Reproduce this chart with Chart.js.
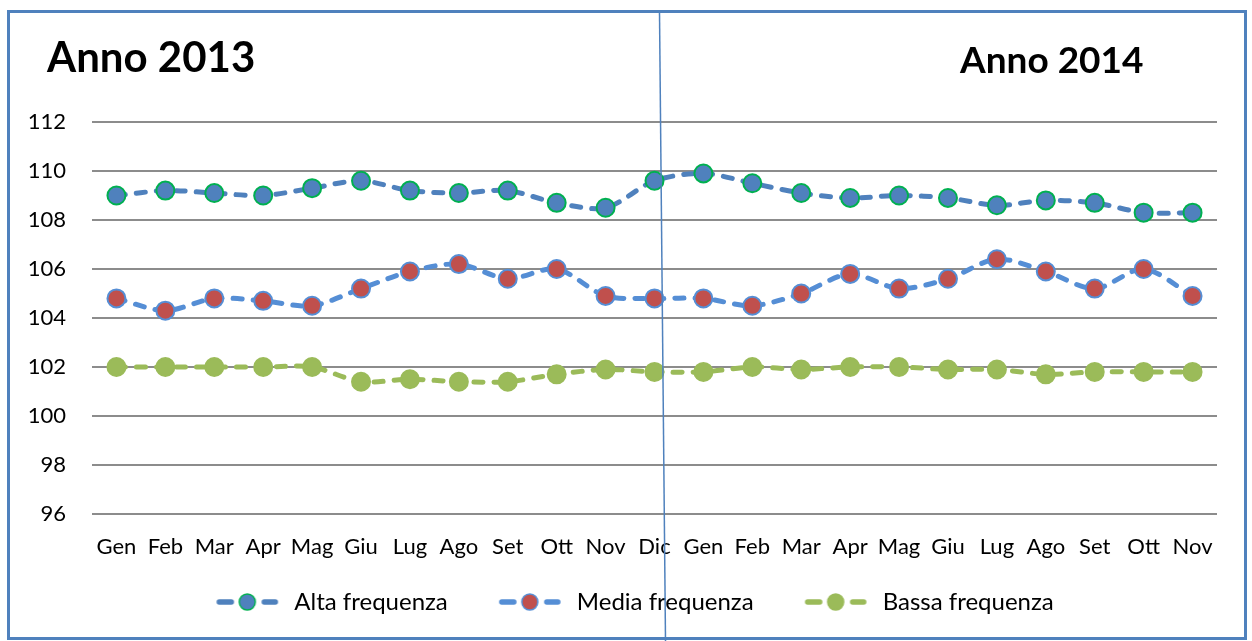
<!DOCTYPE html>
<html>
<head>
<meta charset="utf-8">
<script src="https://cdn.jsdelivr.net/npm/chart.js@4"></script>
<style>
  body { margin: 0; background: #fff; }
  #wrap { position: relative; width: 1252px; height: 641px; overflow: hidden; }
  #chart { position: absolute; left: 0; top: 0; }
  #frame { position: absolute; left: 7px; top: 10px; width: 1234px; height: 624px;
           border: 3px solid #4f81bd; pointer-events: none; }
</style>
</head>
<body>
<div id="wrap">
  <canvas id="chart" width="1252" height="641"></canvas>
  <div id="frame"></div>
</div>
<script>
const MONTHS = ['Gen','Feb','Mar','Apr','Mag','Giu','Lug','Ago','Set','Ott','Nov','Dic',
                'Gen','Feb','Mar','Apr','Mag','Giu','Lug','Ago','Set','Ott','Nov'];
const ALTA  = [109.0,109.2,109.1,109.0,109.3,109.6,109.2,109.1,109.2,108.7,108.5,109.6,
               109.9,109.5,109.1,108.9,109.0,108.9,108.6,108.8,108.7,108.3,108.3];
const MEDIA = [104.8,104.3,104.8,104.7,104.5,105.2,105.9,106.2,105.6,106.0,104.9,104.8,
               104.8,104.5,105.0,105.8,105.2,105.6,106.4,105.9,105.2,106.0,104.9];
const BASSA = [102.0,102.0,102.0,102.0,102.0,101.4,101.5,101.4,101.4,101.7,101.9,101.8,
               101.8,102.0,101.9,102.0,102.0,101.9,101.9,101.7,101.8,101.8,101.8];
const Y_MIN = 96, Y_MAX = 112, Y_STEP = 2;
const TITLE_LEFT = 'Anno 2013';
const TITLE_RIGHT = 'Anno 2014';

const FONT = 'Lato, "Open Sans", sans-serif';

// legend symbol: dash - marker - dash, with blank space on the left as item spacing
function legendIcon(line, fill, stroke) {
  const c = document.createElement('canvas');
  c.width = 109; c.height = 24;
  const g = c.getContext('2d');
  const L = 43;
  g.strokeStyle = line; g.lineWidth = 5.5; g.lineCap = 'round';
  g.beginPath();
  g.moveTo(L + 3, 12); g.lineTo(L + 15, 12);
  g.moveTo(L + 48, 12); g.lineTo(L + 59, 12);
  g.stroke();
  g.beginPath();
  g.arc(L + 31, 12, 8, 0, Math.PI * 2);
  g.fillStyle = fill; g.fill();
  g.lineWidth = 1.5; g.strokeStyle = stroke; g.stroke();
  return c;
}

const decor = {
  id: 'decor',
  afterDraw(chart) {
    const { ctx, scales: { x } } = chart;
    const xd = x.getPixelForValue(11);
    ctx.save();
    ctx.fillStyle = '#000';
    ctx.textBaseline = 'alphabetic';
    ctx.font = 'bold 42px ' + FONT;
    ctx.fillText(TITLE_LEFT, 47, 72);
    ctx.font = 'bold 37px ' + FONT;
    ctx.fillText(TITLE_RIGHT, 960, 73);
    ctx.strokeStyle = '#4f81bd';
    ctx.lineWidth = 1.5;
    ctx.beginPath();
    ctx.moveTo(xd + 5, 12);
    ctx.lineTo(xd + 11, 641);
    ctx.stroke();
    ctx.restore();
  }
};

const common = { borderWidth: 5, borderDash: [9, 11], borderCapStyle: 'round',
                 tension: 0.3, pointRadius: 9, pointHoverRadius: 9, pointBorderWidth: 2 };

new Chart(document.getElementById('chart'), {
  type: 'line',
  data: {
    labels: MONTHS,
    datasets: [
      { ...common, label: 'Alta frequenza', data: ALTA,
        borderColor: '#4f81bd', pointBackgroundColor: '#4f81bd', pointBorderColor: '#00b050',
        legendIcon: legendIcon('#4f81bd', '#4f81bd', '#00b050') },
      { ...common, label: 'Media frequenza', data: MEDIA,
        borderColor: '#558ed5', pointBackgroundColor: '#c0504d', pointBorderColor: '#558ed5',
        legendIcon: legendIcon('#558ed5', '#c0504d', '#558ed5') },
      { ...common, label: 'Bassa frequenza', data: BASSA,
        borderColor: '#9bbb59', pointBackgroundColor: '#9bbb59', pointBorderColor: '#9bbb59',
        legendIcon: legendIcon('#9bbb59', '#9bbb59', '#9bbb59') }
    ]
  },
  options: {
    responsive: false,
    animation: false,
    layout: { padding: { top: 122, left: 10, right: 35, bottom: 17 } },
    plugins: {
      tooltip: { enabled: false },
      legend: {
        position: 'bottom',
        labels: {
          usePointStyle: true,
          pointStyleWidth: 109,
          padding: 8,
          color: '#000',
          font: { family: FONT, size: 24 },
          generateLabels(chart) {
            return chart.data.datasets.map((ds, i) => ({
              text: ds.label, datasetIndex: i, pointStyle: ds.legendIcon,
              fontColor: '#000', lineWidth: 0, hidden: false
            }));
          }
        }
      }
    },
    scales: {
      x: {
        offset: true,
        grid: { display: false },
        border: { display: false },
        ticks: { color: '#000', font: { family: FONT, size: 22 }, padding: 12,
                 maxRotation: 0, autoSkip: false },
        afterFit(s) { s.height = 68; }
      },
      y: {
        min: Y_MIN, max: Y_MAX,
        border: { display: false },
        grid: { color: '#8c8c8c', lineWidth: 2, drawTicks: false },
        ticks: { stepSize: Y_STEP, color: '#000', font: { family: FONT, size: 22 }, padding: 26 },
        afterFit(s) { s.width = 82; }
      }
    }
  },
  plugins: [decor]
});
</script>
</body>
</html>
